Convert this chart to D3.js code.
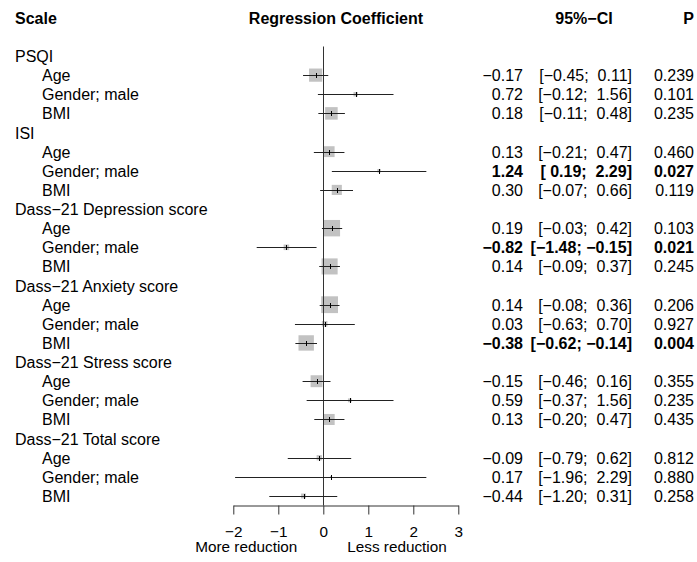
<!DOCTYPE html>
<html>
<head>
<meta charset="utf-8">
<script src="https://cdn.jsdelivr.net/npm/d3@7"></script>
<style>
  body { margin: 0; background: #fff; }
  svg text { font-family: "Liberation Sans", Arial, Helvetica, sans-serif; white-space: pre; }
</style>
</head>
<body>
<svg id="container"></svg>
<script>
// outcome scales and predictors (one row per predictor inside each scale)
const scales = ["PSQI", "ISI", "Dass−21 Depression score", "Dass−21 Anxiety score", "Dass−21 Stress score", "Dass−21 Total score"];
const predictors = ["Age", "Gender; male", "BMI"];

// regression coefficients with 95% CI, in order scale x predictor
const estimates = [-0.17, 0.72, 0.18,  0.13, 1.24, 0.30,  0.19, -0.82, 0.14,  0.14, 0.03, -0.38,  -0.15, 0.59, 0.13,  -0.09, 0.17, -0.44];
const lower     = [-0.45, -0.12, -0.11, -0.21, 0.19, -0.07, -0.03, -1.48, -0.09, -0.08, -0.63, -0.62, -0.46, -0.37, -0.20, -0.79, -1.96, -1.20];
const upper     = [0.11, 1.56, 0.48,  0.47, 2.29, 0.66,  0.42, -0.15, 0.37,  0.36, 0.70, -0.14,  0.16, 1.56, 0.47,  0.62, 2.29, 0.31];
const pValues   = ["0.239", "0.101", "0.235", "0.460", "0.027", "0.119", "0.103", "0.021", "0.245", "0.206", "0.927", "0.004", "0.355", "0.235", "0.435", "0.812", "0.880", "0.258"];

const xTicks = [-2, -1, 0, 1, 2, 3];
const headers = {scale: "Scale", coef: "Regression Coefficient", ci: "95%−CI", p: "P"};
const axisLabels = ["More reduction", "Less reduction"];

let width = 697, height = 562;
const fontSize = 16;      // table text
const axisFont = 15.3;    // axis text
const minus = "−";

let svg = d3.select("#container")
    .attr("width", width)
    .attr("height", height)
    .attr("viewBox", "0 0 " + width + " " + height);

// build the rows: a header row for each scale, then its predictors
let rows = [];
let k = 0;
scales.forEach((scale) => {
    rows.push({type: "group", label: scale});
    predictors.forEach((pred) => {
        rows.push({
            type: "item", label: pred,
            est: estimates[k], lo: lower[k], hi: upper[k], p: pValues[k],
            bold: parseFloat(pValues[k]) < 0.05
        });
        k++;
    });
});
let items = rows.filter(r => r.type == "item");

const xScale = d3.scaleLinear().domain([-2, 3]).range([233.3, 458.3]);
const yScale = d3.scalePoint().domain(d3.range(rows.length)).range([56, 496]);
rows.forEach((r, i) => r.y = yScale(i));

// square size from precision (sqrt of inverse variance)
items.forEach(d => { let se = (d.hi - d.lo) / (2 * 1.96); d.w = 1 / (se * se); });
const sizeScale = d3.scaleSqrt().domain([0, d3.max(items, d => d.w)]).range([0, 16.8]);

const fmt = v => (v < 0 ? minus : " ") + Math.abs(v).toFixed(2);
const fmtEst = v => (v < 0 ? minus : "") + Math.abs(v).toFixed(2);

// headers
svg.append("g")
    .style("font-size", fontSize + "px")
    .style("font-weight", "bold")
    .selectAll("text")
    .data([
        {t: headers.scale, x: 15, a: "start"},
        {t: headers.coef, x: 336, a: "middle"},
        {t: headers.ci, x: 584, a: "middle"},
        {t: headers.p, x: 694, a: "end"}
    ])
    .enter()
    .append("text")
        .attr("x", d => d.x)
        .attr("y", 24)
        .attr("text-anchor", d => d.a)
        .text(d => d.t);

// row labels
svg.append("g")
    .style("font-size", fontSize + "px")
    .selectAll("text")
    .data(rows)
    .enter()
    .append("text")
        .attr("x", d => d.type == "group" ? 15 : 42)
        .attr("y", d => d.y + 6)
        .text(d => d.label);

// squares
svg.append("g")
    .selectAll("rect")
    .data(items)
    .enter()
    .append("rect")
        .attr("x", d => xScale(d.est) - sizeScale(d.w) / 2)
        .attr("y", d => d.y - sizeScale(d.w) / 2)
        .attr("width", d => sizeScale(d.w))
        .attr("height", d => sizeScale(d.w))
        .style("fill", "#c2c2c2");

// reference line at zero
svg.append("line")
    .attr("x1", Math.round(xScale(0)) + 0.5)
    .attr("x2", Math.round(xScale(0)) + 0.5)
    .attr("y1", yScale(0) - 9.5)
    .attr("y2", 505.5)
    .attr("stroke", "#333")
    .attr("stroke-width", 1);

// confidence intervals
svg.append("g")
    .selectAll("line")
    .data(items)
    .enter()
    .append("line")
        .attr("x1", d => xScale(d.lo))
        .attr("x2", d => xScale(d.hi))
        .attr("y1", d => Math.round(d.y) + 0.5)
        .attr("y2", d => Math.round(d.y) + 0.5)
        .attr("stroke", "#222")
        .attr("stroke-width", 1);

// small tick marking the point estimate
svg.append("g")
    .selectAll("line")
    .data(items)
    .enter()
    .append("line")
        .attr("x1", d => Math.round(xScale(d.est)) + 0.5)
        .attr("x2", d => Math.round(xScale(d.est)) + 0.5)
        .attr("y1", d => Math.round(d.y) + 0.5 - 2.5)
        .attr("y2", d => Math.round(d.y) + 0.5 + 2.5)
        .attr("stroke", "#000")
        .attr("stroke-width", 1);

// text columns: estimate, CI, p
let cols = svg.append("g").style("font-size", fontSize + "px");
cols.selectAll(".est")
    .data(items)
    .enter()
    .append("text")
        .attr("class", "est")
        .attr("x", 523)
        .attr("y", d => d.y + 6)
        .attr("text-anchor", "end")
        .style("font-weight", d => d.bold ? "bold" : "normal")
        .text(d => fmtEst(d.est));
cols.selectAll(".ci")
    .data(items)
    .enter()
    .append("text")
        .attr("class", "ci")
        .attr("x", 632)
        .attr("y", d => d.y + 6)
        .attr("text-anchor", "end")
        .style("font-weight", d => d.bold ? "bold" : "normal")
        .text(d => "[" + fmt(d.lo) + "; " + fmt(d.hi) + "]");
cols.selectAll(".pv")
    .data(items)
    .enter()
    .append("text")
        .attr("class", "pv")
        .attr("x", 694)
        .attr("y", d => d.y + 6)
        .attr("text-anchor", "end")
        .style("font-weight", d => d.bold ? "bold" : "normal")
        .text(d => d.p);

// x axis
let axis = svg.append("g")
    .attr("transform", "translate(0,505.5)")
    .call(d3.axisBottom(xScale)
        .tickValues(xTicks)
        .tickSize(9)
        .tickSizeOuter(0)
        .tickPadding(12)
        .tickFormat(v => (v < 0 ? minus : "") + Math.abs(v)));
axis.selectAll("text")
    .style("font-size", axisFont + "px")
    .style("font-family", "'Liberation Sans', Arial, sans-serif")
    .attr("fill", "#000");
axis.selectAll("line, path").attr("stroke", "#333");

// direction labels under the axis
svg.append("g")
    .style("font-size", axisFont + "px")
    .selectAll("text")
    .data(axisLabels)
    .enter()
    .append("text")
        .attr("x", (d, i) => i == 0 ? xScale(0) - 26 : xScale(0) + 24)
        .attr("y", 552)
        .attr("text-anchor", (d, i) => i == 0 ? "end" : "start")
        .text(d => d);
</script>
</body>
</html>
